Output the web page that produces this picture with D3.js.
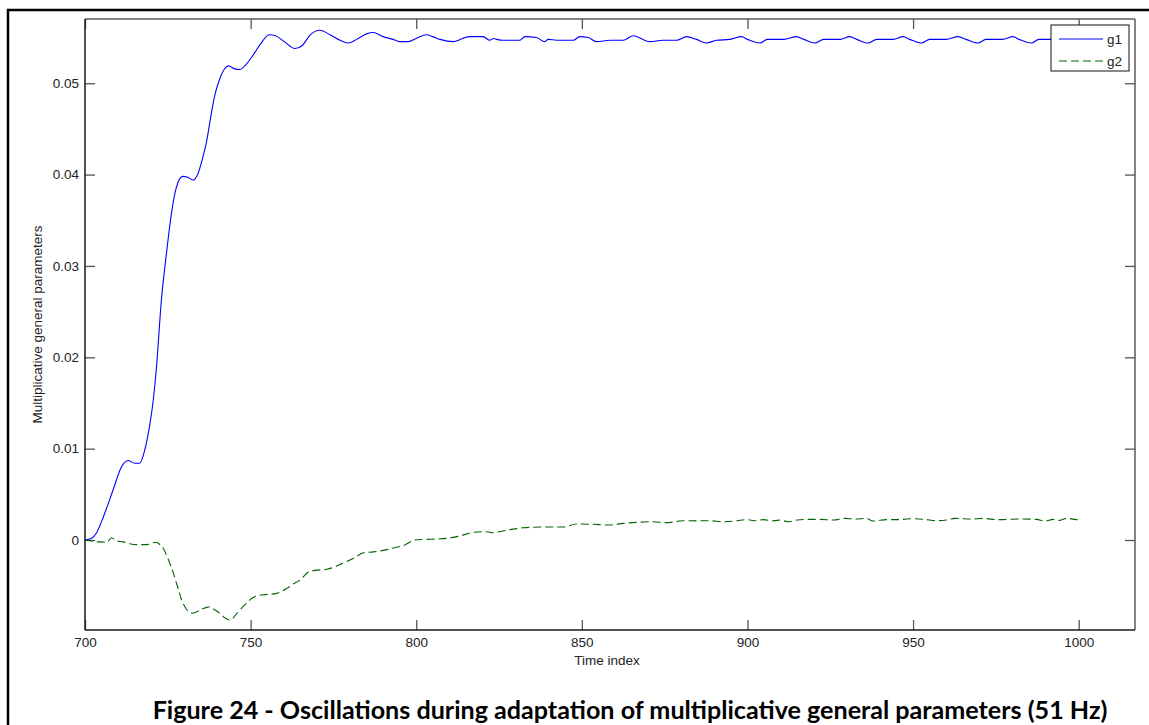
<!DOCTYPE html>
<html>
<head>
<meta charset="utf-8">
<script src="https://cdn.jsdelivr.net/npm/d3@7"></script>
<style>
  html, body { margin: 0; padding: 0; background: #fff; }
  svg { display: block; }
</style>
</head>
<body>
<svg id="chart" width="1149" height="725"></svg>
<script>
// Time index samples and values for the multiplicative general parameters
const g1Time = [700, 702, 703.5, 705.5, 708.5, 711, 713, 715, 716.5, 718, 719.5, 720.5, 721.6, 723, 724.7, 726, 727.5, 729.5, 731, 732.7, 734, 735.5, 736.7, 738, 739.2, 740.5, 742, 743.3, 745, 746.8, 748.5, 750.8, 753, 755.6, 757.5, 760, 763.4, 765.5, 768, 770.9, 774, 777, 779.5, 782, 785, 787, 790, 793, 795, 797.6, 800, 803.1, 805, 807.2, 811.2, 814, 816.2, 820.2, 822.2, 823.3, 824.3, 826.3, 831.3, 832.8, 836.3, 838.8, 839.8, 842.4, 847.4, 849.4, 851.9, 854.4, 858.5, 862.5, 865.5, 870.5, 874.5, 878.6, 881.6, 884.6, 887.6, 890.6, 894.7, 898.2, 900, 903.7, 906, 911, 914.8, 917, 920.3, 923, 928, 930.9, 933, 936.4, 939, 944, 947, 949, 952.5, 955, 960, 963.6, 966, 969.6, 972, 977, 980.2, 982, 985.7, 988, 994, 1000];
const g1Values = [0, 0.0002, 0.0008, 0.0025, 0.0055, 0.0080, 0.0087, 0.0084, 0.0084, 0.0098, 0.0125, 0.0150, 0.0190, 0.0260, 0.0317, 0.0355, 0.0385, 0.0398, 0.0397, 0.0394, 0.0400, 0.0418, 0.0436, 0.0464, 0.0487, 0.0503, 0.0515, 0.0519, 0.0516, 0.0515, 0.0520, 0.0531, 0.0543, 0.0553, 0.0552, 0.0546, 0.0538, 0.0541, 0.0553, 0.0558, 0.0553, 0.0547, 0.0544, 0.0548, 0.0554, 0.05555, 0.0551, 0.0548, 0.05455, 0.05455, 0.0549, 0.0553, 0.0551, 0.0548, 0.05455, 0.0549, 0.0551, 0.0551, 0.0547, 0.0549, 0.0548, 0.0547, 0.0547, 0.0551, 0.0550, 0.05455, 0.0548, 0.0547, 0.0547, 0.0551, 0.0550, 0.05455, 0.0547, 0.0547, 0.0552, 0.05455, 0.0547, 0.0547, 0.0551, 0.0548, 0.0544, 0.0547, 0.0548, 0.0551, 0.0548, 0.0544, 0.0548, 0.0548, 0.0551, 0.0548, 0.0544, 0.0548, 0.0548, 0.0551, 0.0548, 0.0544, 0.0548, 0.0548, 0.0551, 0.0548, 0.0544, 0.0548, 0.0548, 0.0551, 0.0548, 0.0544, 0.0548, 0.0548, 0.0551, 0.0548, 0.0544, 0.0548, 0.0548, 0.0548];

const g2Time = [700, 702, 703.5, 705, 706.5, 708, 709.5, 711.6, 713.5, 715.6, 718.6, 720.5, 721.6, 722.6, 723.6, 725, 726.7, 728, 729.2, 730.5, 732.2, 733.5, 734.7, 736.5, 737.7, 739, 740.7, 742.5, 743.8, 745.5, 746.8, 748.5, 750.3, 752, 753.8, 757.9, 760.9, 762.5, 764.9, 767.9, 770, 773, 776, 778, 780, 782, 784, 787, 789, 792, 794, 796.1, 799.6, 803.1, 806, 809.2, 813.2, 817.2, 821.2, 823.2, 827.3, 832.3, 838.3, 844.4, 848.4, 853.4, 858, 862.5, 866.5, 871.5, 875.6, 880.6, 884.6, 888.7, 892.7, 896.7, 899.7, 902.7, 904.7, 907.8, 910, 912.3, 915, 918.8, 922, 925.9, 929.4, 932.4, 935.9, 937.9, 942, 946, 949, 953.5, 957.1, 960.1, 962.6, 967.6, 971.1, 974.2, 977.2, 982.2, 987.3, 989.8, 992.3, 994.3, 996.3, 999.3, 1000];
const g2Values = [0, -0.0001, -0.0002, -0.0002, -0.0003, 0.00025, -0.0001, -0.0002, -0.0004, -0.0005, -0.0005, -0.0003, -0.00025, -0.0005, -0.0009, -0.0020, -0.00365, -0.0052, -0.0066, -0.0075, -0.0080, -0.0079, -0.00766, -0.0074, -0.0073, -0.0076, -0.0080, -0.0086, -0.00876, -0.0082, -0.00766, -0.0070, -0.0064, -0.0061, -0.0060, -0.00584, -0.0053, -0.0049, -0.00438, -0.0034, -0.0033, -0.0032, -0.00285, -0.0025, -0.0022, -0.0018, -0.0014, -0.0013, -0.0012, -0.00099, -0.0008, -0.00062, 0, 0.00007, 0.0001, 0.00018, 0.00044, 0.00084, 0.00091, 0.0008, 0.00106, 0.00135, 0.00142, 0.00142, 0.00175, 0.00172, 0.00164, 0.00182, 0.00193, 0.0020, 0.0019, 0.00211, 0.0021, 0.00211, 0.0020, 0.0021, 0.00223, 0.00211, 0.00223, 0.0021, 0.00219, 0.0020, 0.00219, 0.00226, 0.00226, 0.00219, 0.00237, 0.0023, 0.00237, 0.00208, 0.00223, 0.00223, 0.00233, 0.00226, 0.00212, 0.00219, 0.00237, 0.0023, 0.00237, 0.00226, 0.00223, 0.0023, 0.00226, 0.00208, 0.00226, 0.00215, 0.00237, 0.00223, 0.0022];

const seriesNames = ["g1", "g2"];
const xTicks = [700, 750, 800, 850, 900, 950, 1000];
const yTicks = [0, 0.01, 0.02, 0.03, 0.04, 0.05];
const xDomain = [700, 1017];
const yDomain = [-0.00985, 0.05703];

const titleText = "Figure 24 - Oscillations during adaptation of multiplicative general parameters (51 Hz)";
const xLabel = "Time index";
const yLabel = "Multiplicative general parameters";

const svg = d3.select("#chart");
const W = 1149, H = 725;
const plot = { left: 85, top: 19, right: 1135, bottom: 630 };
const tickFont = "'Liberation Sans', Arial, sans-serif";

svg.append("rect").attr("width", W).attr("height", H).attr("fill", "#fff");

// outer figure frame (runs off the right and bottom edges)
svg.append("path")
  .attr("d", "M8,760 V10 H1160")
  .attr("fill", "none").attr("stroke", "#000").attr("stroke-width", 2.5);

const x = d3.scaleLinear().domain(xDomain).range([plot.left, plot.right]);
const y = d3.scaleLinear().domain(yDomain).range([plot.bottom, plot.top]);

function styleAxis(g, showLabels) {
  g.select(".domain").remove();
  g.selectAll(".tick line").attr("stroke", "#555").attr("stroke-width", 1.3);
  g.selectAll(".tick text")
    .attr("fill", "#222")
    .style("font-family", tickFont)
    .style("font-size", "13.5px");
  if (!showLabels) g.selectAll(".tick text").remove();
}

svg.append("g").attr("transform", `translate(0,${plot.bottom})`)
  .call(d3.axisBottom(x).tickValues(xTicks).tickSizeInner(-10).tickSizeOuter(0).tickPadding(7).tickFormat(d3.format("d")))
  .call(g => styleAxis(g, true));
svg.append("g").attr("transform", `translate(0,${plot.top})`)
  .call(d3.axisTop(x).tickValues(xTicks).tickSizeInner(-10).tickSizeOuter(0))
  .call(g => styleAxis(g, false));
svg.append("g").attr("transform", `translate(${plot.left},0)`)
  .call(d3.axisLeft(y).tickValues(yTicks).tickSizeInner(-10).tickSizeOuter(0).tickPadding(6)
    .tickFormat(d => d === 0 ? "0" : d3.format(".2f")(d)))
  .call(g => styleAxis(g, true));
svg.append("g").attr("transform", `translate(${plot.right},0)`)
  .call(d3.axisRight(y).tickValues(yTicks).tickSizeInner(-10).tickSizeOuter(0))
  .call(g => styleAxis(g, false));

// axes box
svg.append("line").attr("x1", plot.left).attr("x2", plot.right).attr("y1", plot.top).attr("y2", plot.top)
  .attr("stroke", "#5a5a5a").attr("stroke-width", 1.5);
svg.append("line").attr("x1", plot.right).attr("x2", plot.right).attr("y1", plot.top).attr("y2", plot.bottom)
  .attr("stroke", "#5a5a5a").attr("stroke-width", 1.5);
svg.append("line").attr("x1", plot.left).attr("x2", plot.right).attr("y1", plot.bottom).attr("y2", plot.bottom)
  .attr("stroke", "#1a1a1a").attr("stroke-width", 1.5);
svg.append("line").attr("x1", plot.left).attr("x2", plot.left).attr("y1", plot.top).attr("y2", plot.bottom)
  .attr("stroke", "#1a1a1a").attr("stroke-width", 1.5);

const series = [
  { name: seriesNames[0], t: g1Time, v: g1Values, color: "#0000ff", dash: null },
  { name: seriesNames[1], t: g2Time, v: g2Values, color: "#006400", dash: "8,4" }
];

const line = d3.line()
  .x(d => x(d[0]))
  .y(d => y(d[1]))
  .curve(d3.curveMonotoneX);

series.forEach(s => {
  const pts = s.t.map((t, i) => [t, s.v[i]]);
  svg.append("path")
    .datum(pts)
    .attr("d", line)
    .attr("fill", "none")
    .attr("stroke", s.color)
    .attr("stroke-width", 1.1)
    .attr("stroke-dasharray", s.dash);
});

// legend
const lg = svg.append("g");
lg.append("rect").attr("x", 1051).attr("y", 25).attr("width", 78).attr("height", 46)
  .attr("fill", "#fff").attr("stroke", "#111").attr("stroke-width", 1);
series.forEach((s, i) => {
  const yy = 39 + i * 22;
  lg.append("line").attr("x1", 1059).attr("x2", 1103).attr("y1", yy).attr("y2", yy)
    .attr("stroke", s.color).attr("stroke-width", 1.1).attr("stroke-dasharray", s.dash);
  lg.append("text").attr("x", 1107).attr("y", yy + 4.5).text(s.name)
    .attr("fill", "#222").style("font-family", tickFont).style("font-size", "13.5px");
});

// axis labels
svg.append("text")
  .attr("x", (plot.left + plot.right) / 2 - 3).attr("y", 665)
  .attr("text-anchor", "middle").attr("fill", "#222")
  .style("font-family", tickFont).style("font-size", "13.5px")
  .text(xLabel);
svg.append("text")
  .attr("transform", `translate(42,${(plot.top + plot.bottom) / 2}) rotate(-90)`)
  .attr("text-anchor", "middle").attr("fill", "#222")
  .style("font-family", tickFont).style("font-size", "13.5px")
  .text(yLabel);

// figure caption, sized to span the caption width
const cap = svg.append("text")
  .attr("x", 630).attr("y", 719)
  .attr("text-anchor", "middle").attr("fill", "#000")
  .style("font-family", "Lato, 'Open Sans', sans-serif").style("font-weight", "bold")
  .style("font-size", "20px")
  .text(titleText);
const capLen = cap.node().getComputedTextLength();
cap.style("font-size", (20 * 955 / capLen).toFixed(2) + "px");
</script>
</body>
</html>
